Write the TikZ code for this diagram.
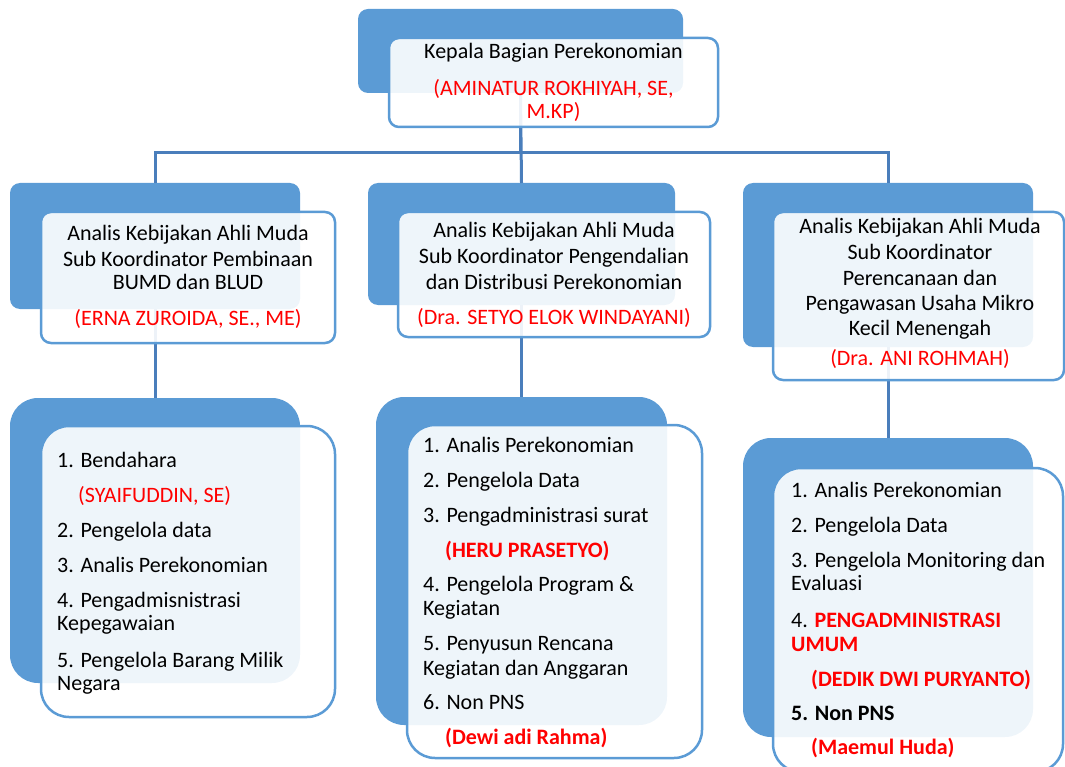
\documentclass[tikz,border=0pt]{standalone}
\usepackage{fontspec}
\setmainfont{Carlito}
\definecolor{backblue}{HTML}{5B9BD5}
\definecolor{frameblue}{HTML}{5B9BD5}
\definecolor{linkblue}{HTML}{4A7EBB}
\definecolor{namered}{HTML}{FF0000}
\begin{document}
\begin{tikzpicture}[x=1pt,y=-1pt,
  font=\fontsize{22}{25}\selectfont,
  backbox/.style={fill=backblue, draw=none, inner sep=0pt, outer sep=0pt},
  frontbox/.style={fill=white, fill opacity=0.9, draw=frameblue, line width=2.5pt, inner sep=0pt, outer sep=0pt},
  link/.style={draw=linkblue, line width=3pt},
  ctxt/.style={inner sep=0pt, anchor=base},
  ltxt/.style={inner sep=0pt, anchor=base west},
  rname/.style={text=namered},
  bname/.style={text=namered, font=\fontsize{22}{25}\selectfont\bfseries}]
\useasboundingbox (0,0) rectangle (1065,767);
\clip (0,0) rectangle (1065,767);

% back rectangles
\node[backbox, rounded corners=10pt, minimum width=325pt, minimum height=84pt] (t0) at (520.5,51) {};
\node[backbox, rounded corners=10pt, minimum width=290pt, minimum height=126pt] (l2) at (155,246) {};
\node[backbox, rounded corners=10pt, minimum width=307pt, minimum height=122pt] (m2) at (521.5,244) {};
\node[backbox, rounded corners=10pt, minimum width=290pt, minimum height=164pt] (r2) at (888,265) {};
\node[backbox, rounded corners=28pt, minimum width=290pt, minimum height=285pt] (l3) at (155,540.5) {};
\node[backbox, rounded corners=28pt, minimum width=291pt, minimum height=328pt] (m3) at (521.5,561) {};
\node[backbox, rounded corners=28pt, minimum width=290pt, minimum height=299pt] (r3) at (888,587.5) {};

% connectors
\draw[link] (t0.south) -- ++(0,60) -| (l2.north);
\draw[link] (t0.south) -- ++(0,60) -| (r2.north);
\draw[link] (t0.south) -- (m2.north);
\draw[link] (l2.south) -- (l3.north);
\draw[link] (m2.south) -- (m3.north);
\draw[link] (r2.south) -- (r3.north);

% front boxes
\node[frontbox, rounded corners=10pt, minimum width=329pt, minimum height=89pt] (t0f) at (553.5,82.5) {};
\node[frontbox, rounded corners=10pt, minimum width=294pt, minimum height=131pt] (l2f) at (188,277.5) {};
\node[frontbox, rounded corners=10pt, minimum width=312pt, minimum height=125pt] (m2f) at (554,274.5) {};
\node[frontbox, rounded corners=10pt, minimum width=291pt, minimum height=168pt] (r2f) at (918.5,296) {};
\node[frontbox, rounded corners=28pt, minimum width=294pt, minimum height=291pt] (l3f) at (188,571.5) {};
\node[frontbox, rounded corners=28pt, minimum width=295pt, minimum height=333pt] (m3f) at (554.5,591.5) {};
\node[frontbox, rounded corners=28pt, minimum width=290pt, minimum height=304pt] (r3f) at (918,620) {};

% top texts
\node[ctxt] (h1) at (553.5,59) {Kepala Bagian Perekonomian};
\node[ctxt, rname] (h2) at (553.5,96) {(AMINATUR ROKHIYAH, SE,};
\node[ctxt, rname] (h3) at (553.5,119) {M.KP)};

% row 2 left
\node[ctxt] (la1) at (188,241) {Analis Kebijakan Ahli Muda};
\node[ctxt] (la2) at (188,266) {Sub Koordinator Pembinaan};
\node[ctxt] (la3) at (188,290) {BUMD dan BLUD};
\node[ctxt, rname] (la4) at (188,325) {(ERNA ZUROIDA, SE., ME)};

% row 2 middle
\node[ctxt] (ma1) at (554,238) {Analis Kebijakan Ahli Muda};
\node[ctxt] (ma2) at (554,264) {Sub Koordinator Pengendalian};
\node[ctxt] (ma3) at (554,289) {dan Distribusi Perekonomian};
\node[ctxt, rname] (ma4) at (554,324) {(Dra. SETYO ELOK WINDAYANI)};

% row 2 right
\node[ctxt] (ra1) at (920,234) {Analis Kebijakan Ahli Muda};
\node[ctxt] (ra2) at (920,260) {Sub Koordinator};
\node[ctxt] (ra3) at (920,285) {Perencanaan dan};
\node[ctxt] (ra4) at (920,310) {Pengawasan Usaha Mikro};
\node[ctxt] (ra5) at (920,335) {Kecil Menengah};
\node[ctxt, rname] (ra6) at (920,365) {(Dra. ANI ROHMAH)};

% row 3 left
\node[ltxt] (lb1) at (57,467) {1. Bendahara};
\node[ltxt, rname] (lb2) at (78,502) {(SYAIFUDDIN, SE)};
\node[ltxt] (lb3) at (57,537) {2. Pengelola data};
\node[ltxt] (lb4) at (57,572) {3. Analis Perekonomian};
\node[ltxt] (lb5) at (57,607) {4. Pengadmisnistrasi};
\node[ltxt] (lb6) at (57,630) {Kepegawaian};
\node[ltxt] (lb7) at (57,667) {5. Pengelola Barang Milik};
\node[ltxt] (lb8) at (57,690) {Negara};

% row 3 middle
\node[ltxt] (mb1) at (423,452) {1. Analis Perekonomian};
\node[ltxt] (mb2) at (423,487) {2. Pengelola Data};
\node[ltxt] (mb3) at (423,522) {3. Pengadministrasi surat};
\node[ltxt, bname] (mb4) at (445,557) {(HERU PRASETYO)};
\node[ltxt] (mb5) at (423,591) {4. Pengelola Program \&};
\node[ltxt] (mb6) at (423,615) {Kegiatan};
\node[ltxt] (mb7) at (423,650) {5. Penyusun Rencana};
\node[ltxt] (mb8) at (423,675) {Kegiatan dan Anggaran};
\node[ltxt] (mb9) at (423,709) {6. Non PNS};
\node[ltxt, bname] (mb10) at (445,744) {(Dewi adi Rahma)};

% row 3 right
\node[ltxt] (rb1) at (791,497) {1. Analis Perekonomian};
\node[ltxt] (rb2) at (791,532) {2. Pengelola Data};
\node[ltxt] (rb3) at (791,567) {3. Pengelola Monitoring dan};
\node[ltxt] (rb4) at (791,590) {Evaluasi};
\node[ltxt] (rb5) at (791,627) {4. \textcolor{namered}{\bfseries PENGADMINISTRASI}};
\node[ltxt, bname] (rb6) at (791,651) {UMUM};
\node[ltxt, bname] (rb7) at (811,686) {(DEDIK DWI PURYANTO)};
\node[ltxt, font=\fontsize{22}{25}\selectfont\bfseries] (rb8) at (791,720) {5. Non PNS};
\node[ltxt, bname] (rb9) at (811,754) {(Maemul Huda)};
\end{tikzpicture}
\end{document}
